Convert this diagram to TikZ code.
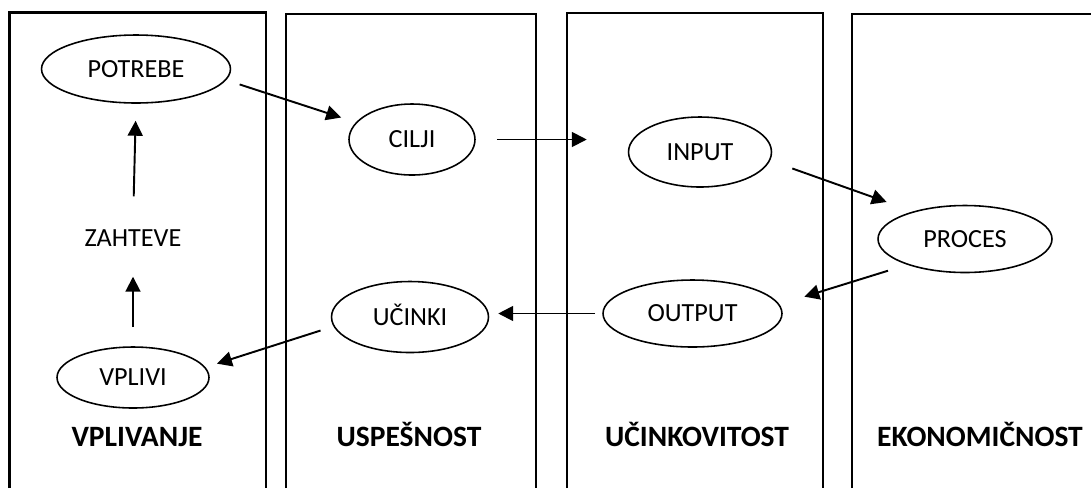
\documentclass[tikz,border=0pt]{standalone}
\usepackage{fontspec}
\setmainfont{Carlito}
\usetikzlibrary{shapes.geometric, arrows.meta}

\begin{document}
\begin{tikzpicture}[
    x=.02cm, y=-.02cm,
    column/.style={draw=black, line width=1.15pt},
    bubble/.style={ellipse, draw=black, line width=.9pt, inner sep=0pt,
        font=\fontsize{14.9pt}{17pt}\selectfont, text height=9.6pt,
        text depth=0pt},
    title/.style={font=\fontsize{16.8pt}{19pt}\selectfont\bfseries,
        anchor=base, inner sep=0pt},
    flow/.style={draw=black, line width=1.1pt,
        -{Triangle[length=8.5pt, width=8.5pt]}},
]
    %% the page, cut at the lower and right edge
    \clip (0, 0) rectangle (1091, 488);

    %% the four columns, open at the foot
    \draw[column] (9.5, 488) -- (9.5, 12.5) -- (266, 12.5) -- (266, 488);
    \draw[column] (286, 488) -- (286, 14) -- (536, 14) -- (536, 488);
    \draw[column] (567, 488) -- (567, 13) -- (823, 13) -- (823, 488);
    \draw[column] (852, 488) -- (852, 14) -- (1100, 14);

    %% column names
    \node[title] (vplivanje) at (137, 446) {VPLIVANJE};
    \node[title] (uspesnost) at (409, 446) {USPEŠNOST};
    \node[title] (ucinkovitost) at (697, 446) {UČINKOVITOST};
    \node[title] (ekonomicnost) at (980, 446) {EKONOMIČNOST};

    %% the cycle
    \node[bubble, minimum width=3.78cm, minimum height=1.36cm] (potrebe)
        at (136, 69) {POTREBE};
    \node[bubble, minimum width=2.52cm, minimum height=1.42cm] (cilji)
        at (412, 139.5) {CILJI};
    \node[bubble, minimum width=2.86cm, minimum height=1.40cm] (input)
        at (700, 152) {INPUT};
    \node[bubble, minimum width=3.48cm, minimum height=1.34cm] (proces)
        at (965, 239) {PROCES};
    \node[bubble, minimum width=3.58cm, minimum height=1.34cm] (output)
        at (692.5, 313.5) {OUTPUT};
    \node[bubble, minimum width=3.14cm, minimum height=1.42cm] (ucinki)
        at (410, 317) {UČINKI};
    \node[bubble, minimum width=3.04cm, minimum height=1.22cm] (vplivi)
        at (133, 377.5) {VPLIVI};
    \node[bubble, draw=none, minimum width=0pt, minimum height=0pt]
        (zahteve) at (133, 238) {ZAHTEVE};

    %% arrows, each kept clear of the ellipses
    \draw[flow, shorten <=.28cm, shorten >=.31cm]
        (potrebe.-7) -- (cilji.163);
    \draw[flow, shorten <=.42cm, shorten >=.82cm]
        (cilji.east) -- (cilji.east -| input.west);
    \draw[flow, shorten <=.47cm, shorten >=.56cm]
        (input.-7) -- (proces.152);
    \draw[flow, shorten <=.40cm, shorten >=.52cm]
        (proces.204) -- (output.6);
    \draw[flow, shorten <=.14cm, shorten >=.18cm]
        (output.west) -- (output.west -| ucinki.east);
    \draw[flow, shorten <=.27cm, shorten >=.24cm]
        (ucinki.187) -- (vplivi.8);
    \draw[flow, shorten <=.38cm, shorten >=.52cm]
        (vplivi.north) -- (zahteve.south);
    \draw[flow, shorten <=.58cm, shorten >=.34cm]
        (zahteve.north) -- (potrebe.south);
\end{tikzpicture}
\end{document}
